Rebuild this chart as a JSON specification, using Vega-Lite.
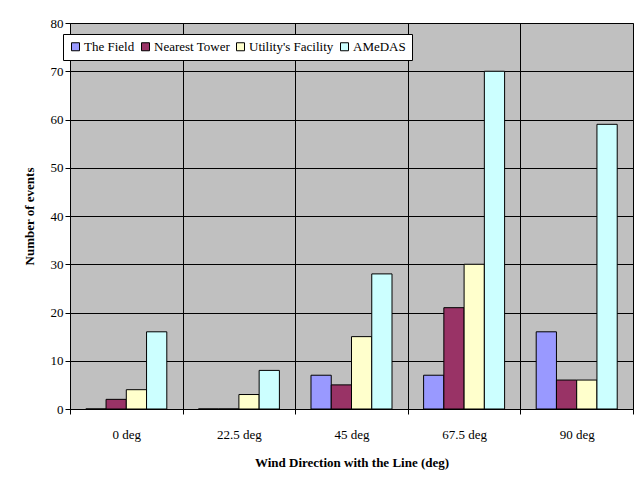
{
  "$schema": "https://vega.github.io/schema/vega-lite/v6.json",
  "width": 563,
  "height": 386,
  "autosize": "none",
  "padding": {"left": 70, "top": 23, "right": 11, "bottom": 79},
  "background": "white",
  "config": {
    "font": "Times New Roman, Liberation Serif, serif",
    "view": {"fill": "#C0C0C0", "stroke": "#808080", "strokeWidth": 1},
    "axis": {
      "labelFont": "Times New Roman, Liberation Serif, serif",
      "titleFont": "Times New Roman, Liberation Serif, serif",
      "labelColor": "black",
      "titleColor": "black",
      "domainColor": "black",
      "tickColor": "black",
      "gridColor": "black",
      "gridOpacity": 1,
      "gridWidth": 1,
      "domainWidth": 1,
      "tickWidth": 1,
      "labelFontSize": 13,
      "titleFontSize": 13,
      "titleFontWeight": "bold"
    }
  },
  "data": {
    "values": [
      {"direction": "0 deg", "source": "The Field", "events": 0},
      {"direction": "0 deg", "source": "Nearest Tower", "events": 2},
      {"direction": "0 deg", "source": "Utility's Facility", "events": 4},
      {"direction": "0 deg", "source": "AMeDAS", "events": 16},
      {"direction": "22.5 deg", "source": "The Field", "events": 0},
      {"direction": "22.5 deg", "source": "Nearest Tower", "events": 0},
      {"direction": "22.5 deg", "source": "Utility's Facility", "events": 3},
      {"direction": "22.5 deg", "source": "AMeDAS", "events": 8},
      {"direction": "45 deg", "source": "The Field", "events": 7},
      {"direction": "45 deg", "source": "Nearest Tower", "events": 5},
      {"direction": "45 deg", "source": "Utility's Facility", "events": 15},
      {"direction": "45 deg", "source": "AMeDAS", "events": 28},
      {"direction": "67.5 deg", "source": "The Field", "events": 7},
      {"direction": "67.5 deg", "source": "Nearest Tower", "events": 21},
      {"direction": "67.5 deg", "source": "Utility's Facility", "events": 30},
      {"direction": "67.5 deg", "source": "AMeDAS", "events": 70},
      {"direction": "90 deg", "source": "The Field", "events": 16},
      {"direction": "90 deg", "source": "Nearest Tower", "events": 6},
      {"direction": "90 deg", "source": "Utility's Facility", "events": 6},
      {"direction": "90 deg", "source": "AMeDAS", "events": 59}
    ]
  },
  "mark": {"type": "bar", "stroke": "black", "strokeWidth": 1},
  "encoding": {
    "x": {
      "field": "direction",
      "type": "nominal",
      "sort": ["0 deg", "22.5 deg", "45 deg", "67.5 deg", "90 deg"],
      "scale": {"paddingInner": 0, "paddingOuter": 0},
      "axis": {
        "title": "Wind Direction with the Line (deg)",
        "labelAngle": 0,
        "tickBand": "extent",
        "tickSize": 5,
        "labelPadding": 14,
        "titlePadding": 15,
        "grid": true
      }
    },
    "xOffset": {
      "field": "source",
      "type": "nominal",
      "sort": ["The Field", "Nearest Tower", "Utility's Facility", "AMeDAS"],
      "scale": {"paddingInner": 0, "paddingOuter": 0.78}
    },
    "y": {
      "field": "events",
      "type": "quantitative",
      "scale": {"domain": [0, 80]},
      "axis": {
        "title": "Number of events",
        "values": [0, 10, 20, 30, 40, 50, 60, 70, 80],
        "tickSize": 5,
        "labelPadding": 2,
        "titlePadding": 14,
        "grid": true
      }
    },
    "color": {
      "field": "source",
      "type": "nominal",
      "sort": ["The Field", "Nearest Tower", "Utility's Facility", "AMeDAS"],
      "scale": {
        "domain": ["The Field", "Nearest Tower", "Utility's Facility", "AMeDAS"],
        "range": ["#9999FF", "#993366", "#FFFFCC", "#CCFFFF"]
      },
      "legend": {
        "title": null,
        "orient": "none",
        "direction": "horizontal",
        "legendX": -7,
        "legendY": 11,
        "symbolType": "square",
        "symbolSize": 64,
        "symbolStrokeColor": "black",
        "symbolStrokeWidth": 1,
        "labelFont": "Times New Roman, Liberation Serif, serif",
        "labelFontSize": 13,
        "labelColor": "black",
        "labelOffset": 2,
        "columnPadding": 4,
        "padding": 6,
        "fillColor": "white",
        "strokeColor": "black"
      }
    }
  }
}
